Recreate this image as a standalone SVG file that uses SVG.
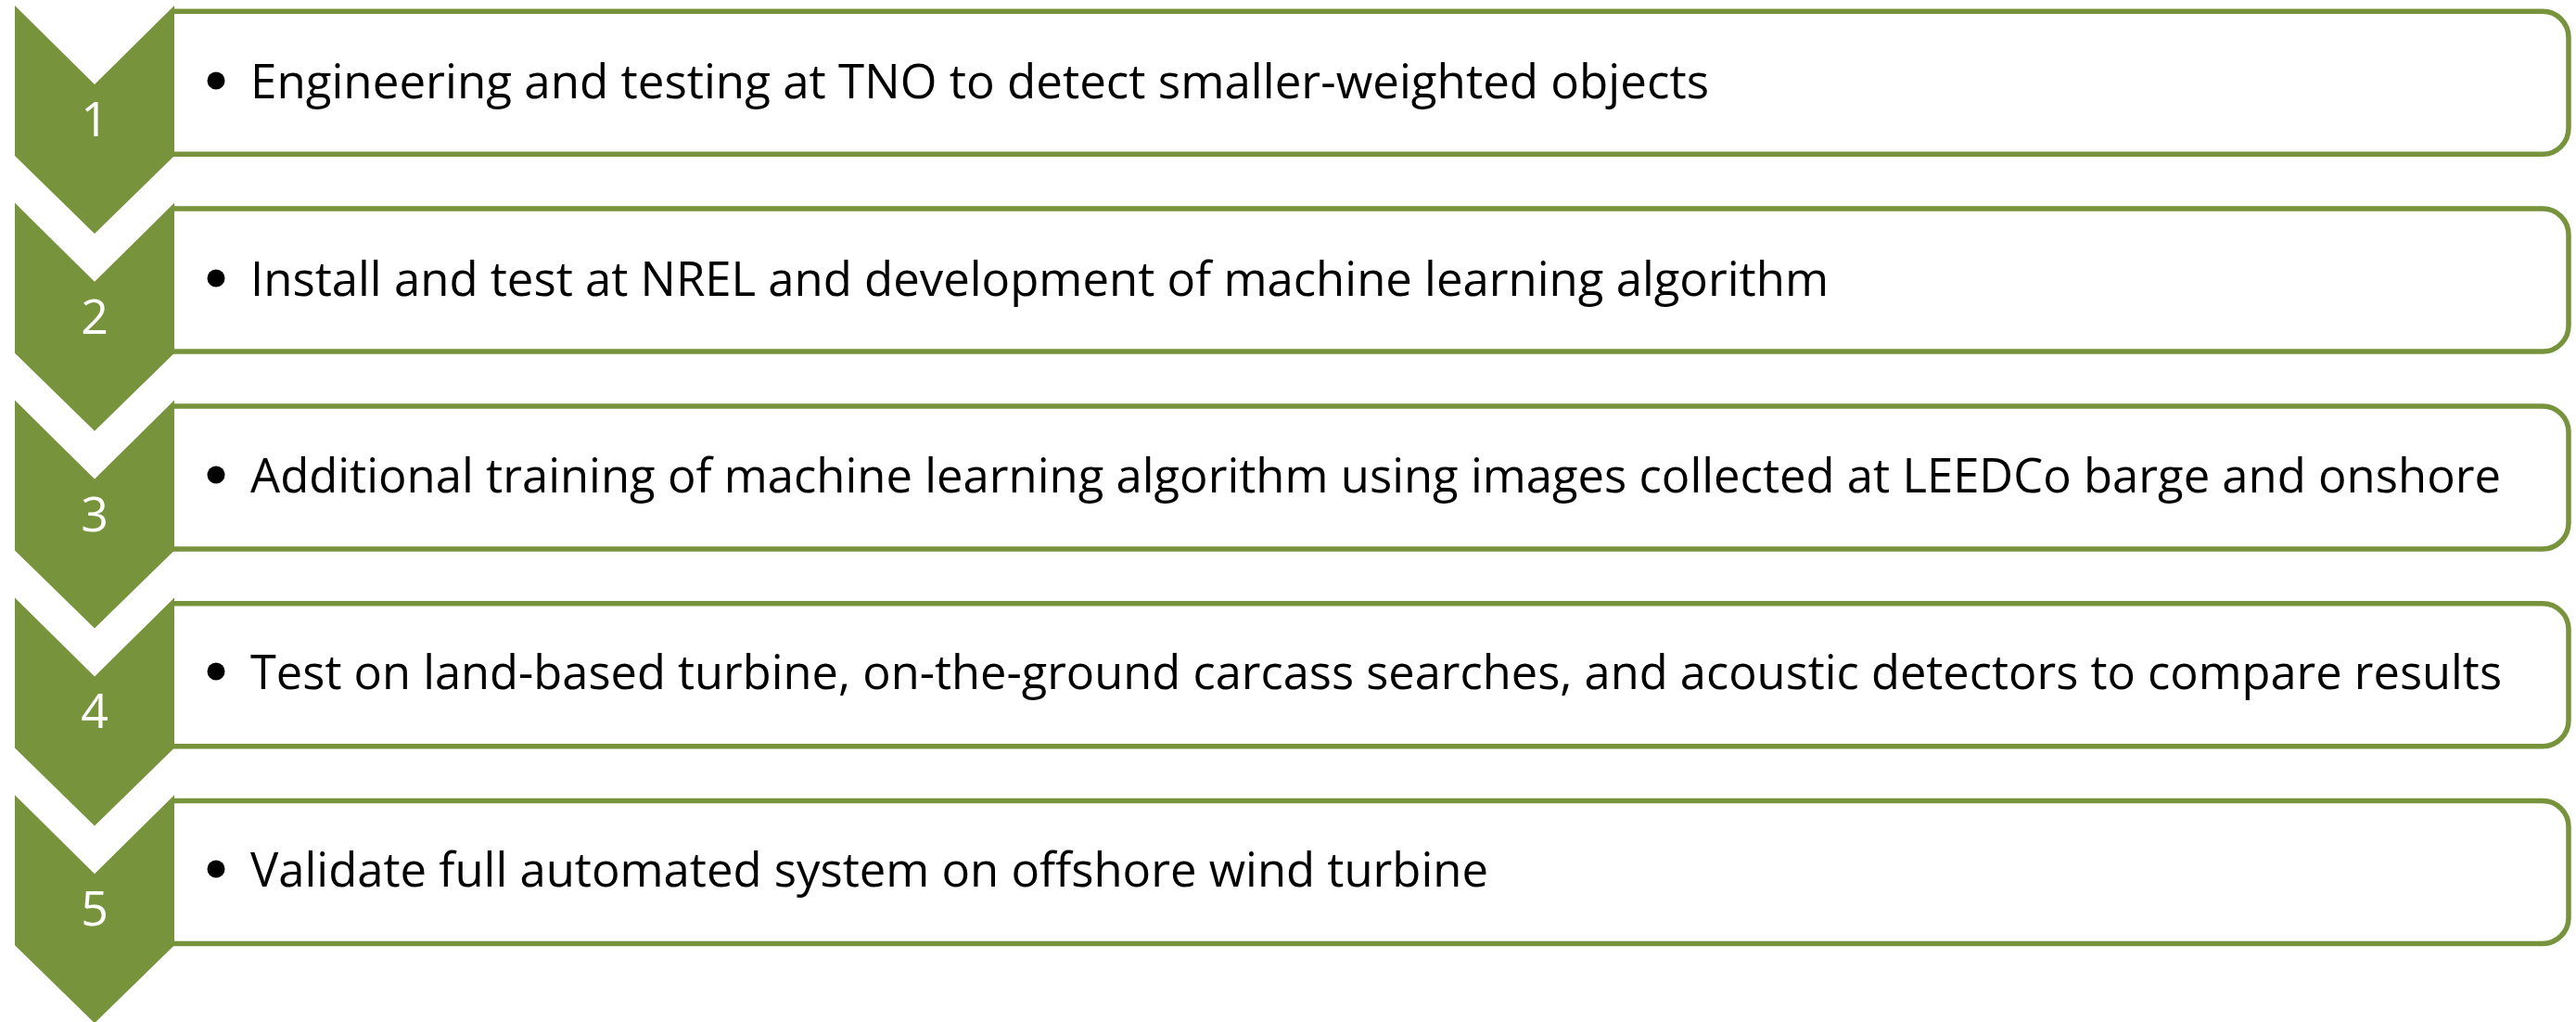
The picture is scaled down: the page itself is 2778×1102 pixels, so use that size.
<svg xmlns="http://www.w3.org/2000/svg" width="2778" height="1102" viewBox="0 0 2778 1102">
<style>
.box{fill:#ffffff;stroke:#77933C;stroke-width:5.5}
.chev{fill:#77933C}
.num{font-family:"Open Sans","Liberation Sans",sans-serif;font-size:52px;fill:#ffffff;text-anchor:middle}
.txt{font-family:"Open Sans","Liberation Sans",sans-serif;font-size:52px;fill:#000000}
.dot{fill:#000000}
</style>
<defs>
<path id="chevron" d="M16,0 L102,85 L188,0 L188,162 L102,246 L16,162 Z"/>
<path id="frame" d="M186,0 H2742 A28,28 0 0 1 2770,28 V126 A28,28 0 0 1 2742,154 H186"/>
</defs>
<rect width="2778" height="1102" fill="#ffffff"/>
<g id="step1">
<use href="#frame" class="box" y="12.3"/>
<use href="#chevron" class="chev" y="6"/>
<text class="num" x="102" y="147">1</text>
<circle class="dot" cx="233" cy="87" r="9.5"/>
<text class="txt" x="270" y="106" textLength="1573" lengthAdjust="spacingAndGlyphs">Engineering and testing at TNO to detect smaller-weighted objects</text>
</g>
<g id="step2">
<use href="#frame" class="box" y="225.1"/>
<use href="#chevron" class="chev" y="218.8"/>
<text class="num" x="102" y="360">2</text>
<circle class="dot" cx="233" cy="300" r="9.5"/>
<text class="txt" x="270" y="319" textLength="1702" lengthAdjust="spacingAndGlyphs">Install and test at NREL and development of machine learning algorithm</text>
</g>
<g id="step3">
<use href="#frame" class="box" y="437.9"/>
<use href="#chevron" class="chev" y="431.6"/>
<text class="num" x="102" y="573">3</text>
<circle class="dot" cx="233" cy="512" r="9.5"/>
<text class="txt" x="270" y="531" textLength="2427" lengthAdjust="spacingAndGlyphs">Additional training of machine learning algorithm using images collected at LEEDCo barge and onshore</text>
</g>
<g id="step4">
<use href="#frame" class="box" y="650.7"/>
<use href="#chevron" class="chev" y="644.4"/>
<text class="num" x="102" y="785">4</text>
<circle class="dot" cx="233" cy="724" r="9.5"/>
<text class="txt" x="270" y="743" textLength="2428" lengthAdjust="spacingAndGlyphs">Test on land-based turbine, on-the-ground carcass searches, and acoustic detectors to compare results</text>
</g>
<g id="step5">
<use href="#frame" class="box" y="863.5"/>
<use href="#chevron" class="chev" y="857.2"/>
<text class="num" x="102" y="998">5</text>
<circle class="dot" cx="233" cy="937" r="9.5"/>
<text class="txt" x="270" y="956" textLength="1335" lengthAdjust="spacingAndGlyphs">Validate full automated system on offshore wind turbine</text>
</g>
</svg>
